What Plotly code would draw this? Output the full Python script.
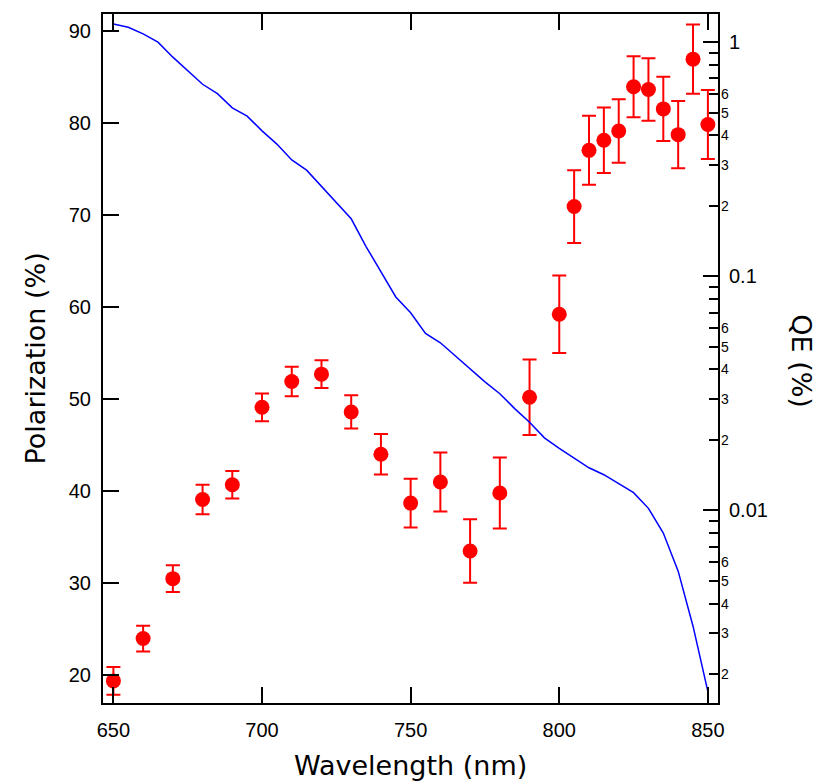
import math
import plotly.graph_objects as go

# Polarization data (left axis)
wavelength_pol = [650, 660, 670, 680, 690, 700, 710, 720, 730, 740, 750, 760, 770, 780,
                  790, 800, 805, 810, 815, 820, 825, 830, 835, 840, 845, 850]
polarization = [19.4, 24.0, 30.5, 39.1, 40.7, 49.1, 51.9, 52.7, 48.6, 44.0, 38.7, 41.0, 33.5, 39.8,
                50.2, 59.2, 70.9, 77.0, 78.1, 79.1, 83.9, 83.6, 81.5, 78.7, 86.9, 79.8]
pol_error = [1.5, 1.4, 1.45, 1.6, 1.5, 1.5, 1.6, 1.5, 1.8, 2.2, 2.65, 3.2, 3.45, 3.85,
             4.1, 4.2, 3.95, 3.75, 3.55, 3.45, 3.3, 3.4, 3.5, 3.65, 3.75, 3.75]

# QE data (right log axis)
wavelength_qe = [650, 655, 660, 665, 670, 675, 680, 685, 690, 695, 700, 705, 710, 715, 720,
                 725, 730, 735, 740, 745, 750, 755, 760, 765, 770, 775, 780, 785, 790, 795,
                 800, 805, 810, 815, 820, 825, 830, 835, 840, 845, 850]
qe = [1.196, 1.158, 1.085, 1.0, 0.863, 0.758, 0.661, 0.603, 0.524, 0.483, 0.418, 0.367, 0.314,
      0.284, 0.242, 0.206, 0.176, 0.134, 0.104, 0.0816, 0.0698, 0.057, 0.052, 0.0457, 0.0401,
      0.0354, 0.0315, 0.0272, 0.0238, 0.0204, 0.0184, 0.0167, 0.0152, 0.0142, 0.0130, 0.0119,
      0.0102, 0.0080, 0.0055, 0.0032, 0.00168]

x_ticks = [650, 700, 750, 800, 850]
qe_major_ticks = [0.01, 0.1, 1]
qe_major_text = ["0.01", "0.1", "1"]
qe_minor_ticks = [m * d for d in (0.001, 0.01, 0.1) for m in range(2, 10)]
qe_minor_labels = [m * d for d in (0.001, 0.01, 0.1) for m in range(2, 7)]

tick_font = dict(family="Liberation Sans, Arial", size=20, color="black")
title_font = dict(family="DejaVu Sans", size=27, color="black")

fig = go.Figure()
fig.add_trace(go.Scatter(
    x=wavelength_qe, y=qe, mode="lines", yaxis="y2",
    line=dict(color="#0000ff", width=1.5), showlegend=False))
fig.add_trace(go.Scatter(
    x=wavelength_pol, y=polarization, mode="markers",
    marker=dict(color="#ff0000", size=15),
    error_y=dict(type="data", array=pol_error, color="#ff0000", thickness=2, width=7),
    showlegend=False))

annotations = []
for v in qe_minor_labels:
    annotations.append(dict(
        x=1, xref="paper", y=math.log10(v), yref="y2", xanchor="left", yanchor="middle",
        xshift=1, text=str(int(round(v / 10 ** math.floor(math.log10(v) + 1e-9)))),
        showarrow=False, font=dict(family="Liberation Sans, Arial", size=14, color="black")))
annotations.append(dict(x=0.5, xref="paper", y=0, yref="paper", yshift=-62, text="Wavelength (nm)",
                        showarrow=False, font=title_font, xanchor="center", yanchor="middle"))
annotations.append(dict(x=0, xref="paper", y=0.5, yref="paper", xshift=-68, text="Polarization (%)",
                        showarrow=False, font=title_font, textangle=-90,
                        xanchor="center", yanchor="middle"))
annotations.append(dict(x=1, xref="paper", y=0.496, yref="paper", xshift=84, text="QE (%)",
                        showarrow=False, font=title_font, textangle=90,
                        xanchor="center", yanchor="middle"))

# page body adds an 8px offset; compensate so the plot area lands where the reference has it
fig.update_layout(
    width=813, height=776,
    margin=dict(l=95, r=103, t=4, b=81),
    paper_bgcolor="white", plot_bgcolor="white",
    xaxis=dict(range=[646.5, 853.4], tickvals=x_ticks, ticks="inside", ticklen=16, tickwidth=2,
               tickcolor="black", showline=True, linewidth=2, linecolor="black", mirror="ticks",
               showgrid=False, zeroline=False, tickfont=tick_font, ticklabelstandoff=8),
    yaxis=dict(range=[17.0, 91.8], tick0=0, dtick=10, ticks="inside", ticklen=16, tickwidth=2,
               tickcolor="black", showline=True, linewidth=2, linecolor="black",
               showgrid=False, zeroline=False, tickfont=tick_font, ticklabelstandoff=6),
    yaxis2=dict(type="log", overlaying="y", side="right", range=[-2.823, 0.1204],
                tickmode="array", tickvals=qe_major_ticks, ticktext=qe_major_text,
                ticks="inside", ticklen=15, tickwidth=2, tickcolor="black",
                minor=dict(tickmode="array", tickvals=qe_minor_ticks, ticks="inside",
                           ticklen=9, tickwidth=2, tickcolor="black", showgrid=False),
                showline=True, linewidth=2, linecolor="black", showgrid=False, zeroline=False,
                tickfont=tick_font, ticklabelstandoff=5),
    annotations=annotations,
)

fig.write_html("out.html")
